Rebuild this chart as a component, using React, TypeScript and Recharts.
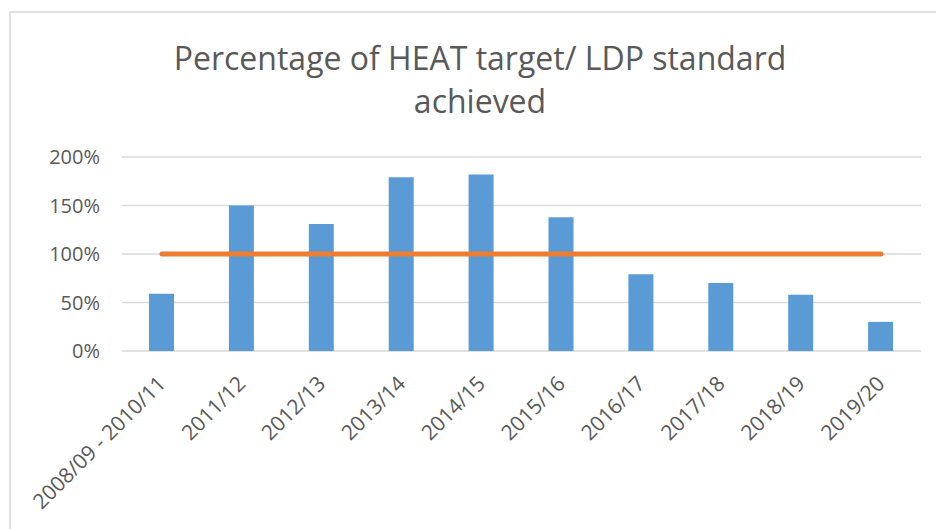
import { ComposedChart, Bar, Line, XAxis, YAxis, CartesianGrid } from 'recharts'

const periodos = [
  '2008/09 - 2010/11',
  '2011/12',
  '2012/13',
  '2013/14',
  '2014/15',
  '2015/16',
  '2016/17',
  '2017/18',
  '2018/19',
  '2019/20',
]
const achieved = [59, 150, 131, 179, 182, 138, 79, 70, 58, 30]
const target = [100, 100, 100, 100, 100, 100, 100, 100, 100, 100]
const yTicks = [0, 50, 100, 150, 200]

const data = periodos.map((p, i) => ({ periodo: p, achieved: achieved[i], target: target[i] }))

const FONT = '"Open Sans", sans-serif'
const TEXT = '#595959'

// rotated category labels, anchored at their end like Excel does
const XTick = (props: any) => {
  const { x, y, payload } = props
  return (
    <g transform={`translate(${x + 5},${y + 34})`}>
      <text textAnchor="end" transform="rotate(-45)" fill={TEXT} fontSize={21} fontFamily={FONT}>
        {payload.value}
      </text>
    </g>
  )
}

export default function App() {
  return (
    <div style={{ position: 'absolute', left: 0, top: 0, width: 936, height: 529, background: '#fff', overflow: 'hidden' }}>
      {/* chart area border */}
      <div style={{ position: 'absolute', left: 9, top: 11, width: 960, height: 560, border: '2px solid #E0E0E0', boxSizing: 'border-box' }} />

      <div
        style={{
          position: 'absolute',
          left: 0,
          top: 36,
          width: 960,
          textAlign: 'center',
          fontFamily: FONT,
          fontSize: 32,
          lineHeight: '43px',
          color: TEXT,
        }}
      >
        Percentage of HEAT target/ LDP standard
        <br />
        achieved
      </div>

      <div style={{ position: 'absolute', left: 0, top: 0 }}>
        <ComposedChart width={936} height={529} data={data} margin={{ top: 157, right: 15, bottom: 0, left: 0 }}>
          <CartesianGrid vertical={false} stroke="#D9D9D9" strokeWidth={1.5} />
          <XAxis
            dataKey="periodo"
            height={178}
            interval={0}
            axisLine={false}
            tickLine={false}
            tickSize={0}
            tickMargin={0}
            tick={<XTick />}
          />
          <YAxis
            width={122}
            domain={[0, 200]}
            ticks={yTicks}
            axisLine={false}
            tickLine={false}
            tickSize={0}
            tickMargin={22}
            tickFormatter={(v) => `${v}%`}
            tick={{ fill: TEXT, fontSize: 20, fontFamily: FONT }}
          />
          <Bar dataKey="achieved" fill="#5B9BD5" barSize={25} isAnimationActive={false} />
          <Line
            type="linear"
            dataKey="target"
            stroke="#ED7D31"
            strokeWidth={5}
            strokeLinecap="round"
            dot={false}
            activeDot={false}
            isAnimationActive={false}
          />
        </ComposedChart>
      </div>
    </div>
  )
}
